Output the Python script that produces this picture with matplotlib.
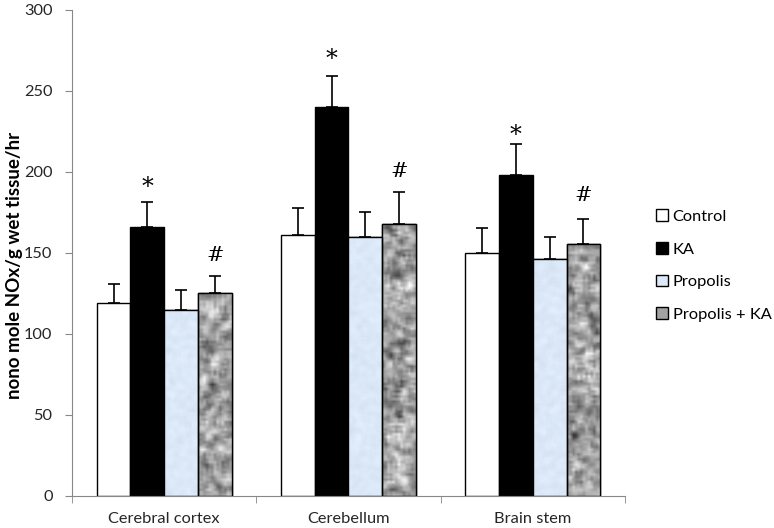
import numpy as np
import matplotlib
matplotlib.use("Agg")
from matplotlib import pyplot as plt
from matplotlib.patches import Patch

regions = ["Cerebral cortex", "Cerebellum", "Brain stem"]
groups = ["Control", "KA", "Propolis", "Propolis + KA"]

# mean values per group, one list per treatment (regions in order)
control = [119, 161, 150]
ka = [166, 240, 198]
propolis = [114.6, 159.4, 146]
propolis_ka = [125, 167.4, 155]

# upper error (SD) per treatment
control_err = [11.5, 16.7, 15]
ka_err = [15.4, 19, 18.8]
propolis_err = [12.3, 15.8, 13.6]
propolis_ka_err = [10.5, 20, 15.6]

# significance marks: (region index, treatment index, text, y)
marks = [(0, 1, "*", 190), (0, 3, "#", 148),
         (1, 1, "*", 269), (1, 3, "#", 200),
         (2, 1, "*", 222.5), (2, 3, "#", 185)]

plt.rcParams['font.family'] = ['Lato', 'DejaVu Sans']

fig = plt.figure(figsize=(7.74, 5.28), dpi=100)
ax = fig.add_axes([0.093, 0.0612, 0.7145, 0.9208])

values = [control, ka, propolis, propolis_ka]
errors = [control_err, ka_err, propolis_err, propolis_ka_err]
faces = ["white", "black", "#dce9f8", "#a2a2a2"]
width = 0.183
offsets = (np.arange(4) - 1.5) * width
x = np.arange(len(regions))

rng = np.random.default_rng(3)
px_per_unit = 487.0 / 300   # vertical pixels per data unit
px_per_cat = 184.5          # horizontal pixels per category


def smooth(z):
    k = np.ones(3) / 3
    z = np.apply_along_axis(lambda r: np.convolve(r, k, mode="same"), 0, z)
    z = np.apply_along_axis(lambda r: np.convolve(r, k, mode="same"), 1, z)
    return z / np.abs(z).max()


def texture(base, amp, h_px, w_px, cell=1.5):
    # smoothed noise so the fill looks like the mottled Excel pattern
    ny, nx = max(int(h_px / cell), 2), max(int(w_px / cell), 2)
    z = smooth(rng.normal(size=(ny, nx)))
    return np.clip(np.array(base)[None, None, :] + amp * z[:, :, None], 0, 1)


for i in range(4):
    bars = ax.bar(x + offsets[i], values[i], width, color=faces[i],
                  edgecolor="black", linewidth=1.0, zorder=2)
    ax.errorbar(x + offsets[i], values[i], yerr=[np.zeros(3), errors[i]],
                fmt="none", ecolor="black", elinewidth=1.2, capsize=4,
                capthick=1.2, zorder=3)
    if i >= 2:
        for b in bars:
            h_px = b.get_height() * px_per_unit
            w_px = b.get_width() * px_per_cat
            if i == 2:
                img = texture((0.86, 0.91, 0.97), 0.035, h_px, w_px, 2)
            else:
                img = texture((0.63, 0.63, 0.63), 0.4, h_px, w_px, 2.5)
            im = ax.imshow(img, extent=[b.get_x(), b.get_x() + b.get_width(),
                                        0, b.get_height()],
                           aspect="auto", zorder=2.1, interpolation="bilinear")
            im.set_clip_path(b)
            ax.bar(b.get_x() + b.get_width() / 2, b.get_height(), width,
                   fill=False, edgecolor="black", linewidth=1.0, zorder=2.2)

for r, t, s, yv in marks:
    ax.text(x[r] + offsets[t], yv, s, ha="center", va="center",
            fontsize=17 if s == "*" else 15, family="DejaVu Serif")

ax.set_xlim(-0.5, 2.5)
ax.set_ylim(0, 300)
ax.set_yticks(np.arange(0, 301, 50))
ax.set_xticks(x)
ax.set_xticklabels(regions, fontsize=11.8, color="#262626")
ax.set_xticks(np.arange(-0.5, 2.6, 1), minor=True)
ax.tick_params(axis="x", which="major", length=0, pad=12)
ax.tick_params(axis="x", which="minor", length=5, color="#888888")
ax.tick_params(axis="y", length=5, color="#888888", labelsize=11.8,
               labelcolor="#262626", pad=9)
for s in ["top", "right"]:
    ax.spines[s].set_visible(False)
for s in ["left", "bottom"]:
    ax.spines[s].set_color("#888888")
fig.text(15 / 774, 0.498, "nono mole NOx/g wet tissue/hr", rotation=90,
         fontsize=13.5, fontweight="bold", ha="center", va="center")

handles = [Patch(facecolor=faces[i], edgecolor="black", linewidth=1.0)
           for i in range(4)]
fig.legend(handles, groups, loc="center left", bbox_to_anchor=(0.8475, 0.497),
           frameon=False, fontsize=11.8, handlelength=0.72, handleheight=0.72,
           handletextpad=0.3, labelspacing=1.1, borderaxespad=0,
           borderpad=0)

fig.savefig("out.png", dpi=100)
